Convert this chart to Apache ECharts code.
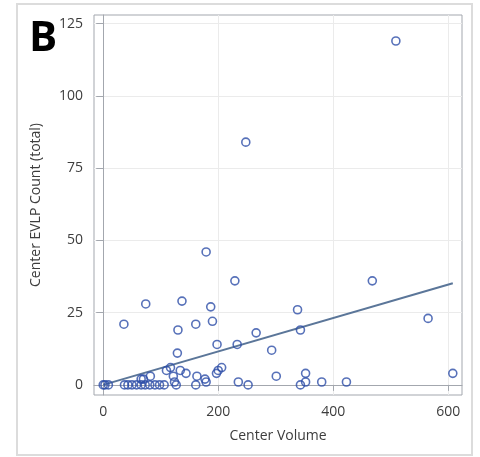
<!DOCTYPE html>
<html>
<head>
<meta charset="utf-8">
<script src="https://cdn.jsdelivr.net/npm/echarts@6/dist/echarts.min.js"></script>
<style>
html,body{margin:0;padding:0;background:#fff;}
#chart{width:480px;height:457px;}
</style>
</head>
<body>
<div id="chart"></div>
<script>
// Data
var centerVolume = [0, 3, 9, 37, 43, 50, 58, 66, 73, 81, 90, 98, 106, 127, 161, 252, 343,
  66, 70, 82, 110, 117, 122, 124, 134, 144, 130, 129, 137, 74, 36, 161, 163,
  177, 179, 197, 200, 206, 179, 187, 190, 198, 229, 233, 235, 248, 266, 293, 301,
  338, 343, 352, 352, 380, 423, 468, 509, 565, 608];
var evlpCount = [0, 0, 0, 0, 0, 0, 0, 0, 0, 0, 0, 0, 0, 0, 0, 0, 0,
  2, 2, 3, 5, 6, 3, 1, 5, 4, 19, 11, 29, 28, 21, 21, 3,
  2, 1, 4, 5, 6, 46, 27, 22, 14, 36, 14, 1, 84, 18, 12, 3,
  26, 19, 4, 1, 1, 1, 36, 119, 23, 4];
var trendX = [0, 608];
var trendY = [0, 35.2];
var xTicks = [0, 200, 400, 600];
var yTicks = [0, 25, 50, 75, 100, 125];

var points = centerVolume.map(function (v, i) { return [v, evlpCount[i]]; });
var trend = trendX.map(function (v, i) { return [v, trendY[i]]; });

var labelFont = {color: '#3d3d3d', fontSize: 14, fontFamily: 'Open Sans'};

var chart = echarts.init(document.getElementById('chart'), null, {renderer: 'canvas'});
chart.setOption({
  animation: false,
  backgroundColor: '#fff',
  grid: {left: 94, right: 18, top: 15, bottom: 62, show: true, borderColor: '#a3a7ae', borderWidth: 1, containLabel: false},
  graphic: [
    {type: 'rect', shape: {x: 17, y: 4, width: 455, height: 451}, style: {fill: 'none', stroke: '#dcdcdc', lineWidth: 2}, z: -1},
    {type: 'text', left: 29, top: 18, style: {text: 'B', font: 'bold 42px "Open Sans"', fill: '#000'}}
  ],
  xAxis: {
    type: 'value', min: -16, max: 624,
    name: 'Center Volume', nameLocation: 'middle', nameGap: 34,
    nameTextStyle: {color: '#3d3d3d', fontSize: 14, fontFamily: 'Open Sans'},
    axisLine: {show: true, lineStyle: {color: '#a3a7ae'}},
    axisTick: {show: true, length: 6, customValues: xTicks, lineStyle: {color: '#a3a7ae'}},
    axisLabel: Object.assign({margin: 10, customValues: xTicks}, labelFont),
    splitLine: {show: true, lineStyle: {color: '#ebebeb', width: 1}}
  },
  yAxis: {
    type: 'value', min: -3.5, max: 128,
    name: 'Center EVLP Count (total)', nameLocation: 'middle', nameGap: 51,
    nameTextStyle: {color: '#3d3d3d', fontSize: 14, fontFamily: 'Open Sans'},
    axisLine: {show: true, lineStyle: {color: '#a3a7ae'}},
    axisTick: {show: true, length: 7, customValues: yTicks, lineStyle: {color: '#a3a7ae'}},
    axisLabel: Object.assign({margin: 11, customValues: yTicks}, labelFont),
    splitLine: {show: true, lineStyle: {color: '#ebebeb', width: 1}}
  },
  series: [
    {
      type: 'scatter', data: points, symbol: 'circle', symbolSize: 8,
      itemStyle: {color: 'rgba(255,255,255,0)', borderColor: '#2d4ea8', borderWidth: 1.6},
      z: 3
    },
    {
      type: 'line', data: trend, symbol: 'none', silent: true,
      lineStyle: {color: '#5b7699', width: 2}, z: 2
    }
  ]
});
</script>
</body>
</html>
